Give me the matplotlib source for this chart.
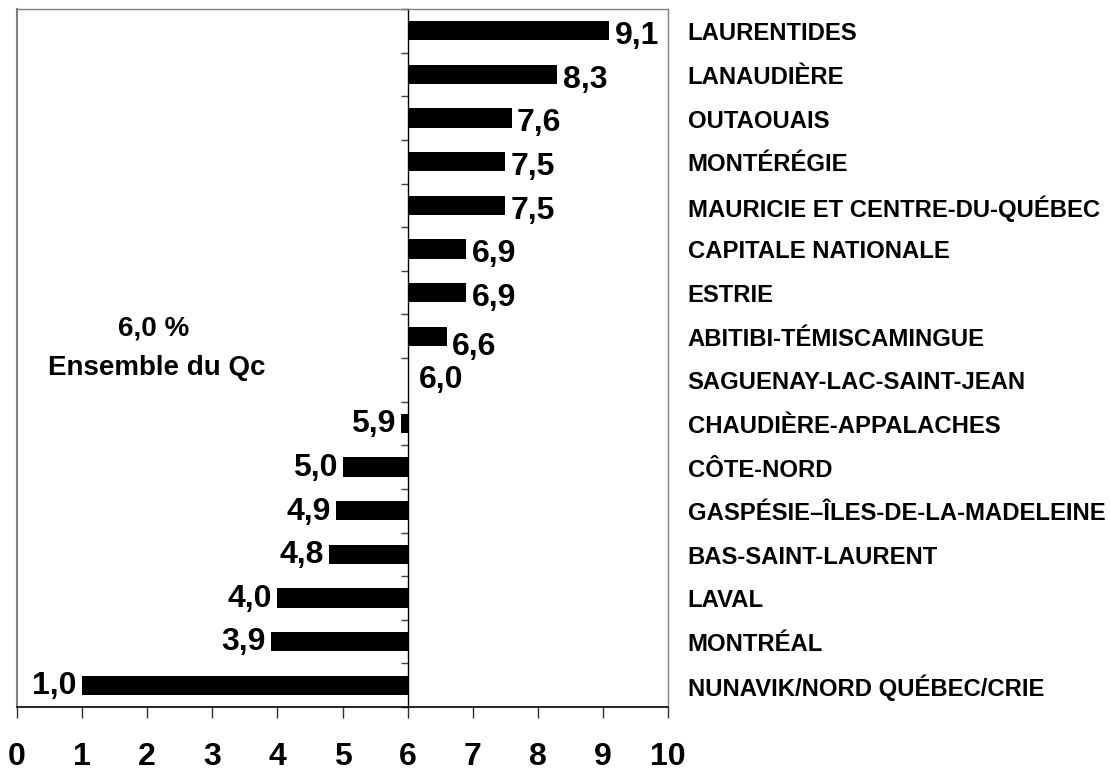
import matplotlib
matplotlib.use("Agg")
import matplotlib.pyplot as plt
import numpy as np

regions = ["LAURENTIDES", "LANAUDIÈRE", "OUTAOUAIS", "MONTÉRÉGIE",
           "MAURICIE ET CENTRE-DU-QUÉBEC", "CAPITALE NATIONALE", "ESTRIE",
           "ABITIBI-TÉMISCAMINGUE", "SAGUENAY-LAC-SAINT-JEAN",
           "CHAUDIÈRE-APPALACHES", "CÔTE-NORD", "GASPÉSIE–ÎLES-DE-LA-MADELEINE",
           "BAS-SAINT-LAURENT", "LAVAL", "MONTRÉAL", "NUNAVIK/NORD QUÉBEC/CRIE"]
values = [9.1, 8.3, 7.6, 7.5, 7.5, 6.9, 6.9, 6.6, 6.0, 5.9, 5.0, 4.9, 4.8, 4.0, 3.9, 1.0]
baseline = 6.0
xticks = list(range(0, 11))

plt.rcParams['font.family'] = ['Liberation Sans', 'DejaVu Sans']
plt.rcParams['font.weight'] = 'bold'

fig = plt.figure(figsize=(11.1, 7.75), dpi=100)
ax = fig.add_axes([17/1110, 1 - 707/775, (668-17)/1110, (707-9)/775])

y = np.arange(len(regions))
widths = [v - baseline for v in values]
ax.barh(y, widths, left=baseline, height=0.44, color='black')

ax.set_xlim(0, 10)
ax.set_ylim(len(regions) - 0.5, -0.5)

VFS = 23
for i, v in enumerate(values):
    lab = f"{v:.1f}".replace('.', ',')
    if v > baseline:
        dy = 0.24 if abs(v - 6.6) < 1e-9 else 0.12
        ax.text(v + 0.08, i + dy, lab, ha='left', va='center', fontsize=VFS, fontweight='bold')
    elif v == baseline:
        ax.text(v + 0.17, i, lab, ha='left', va='center', fontsize=VFS, fontweight='bold')
    else:
        ax.text(v - 0.08, i + 0.02, lab, ha='right', va='center', fontsize=VFS, fontweight='bold')
    ax.text(1.03, 1 - (i + 0.57) / len(regions), regions[i], transform=ax.transAxes,
            ha='left', va='center', fontsize=17.2, fontweight='bold')

ax.text(2.1, 6.82, "6,0 %", ha='center', va='center', fontsize=20, fontweight='bold')
ax.text(2.15, 7.72, "Ensemble du Qc", ha='center', va='center', fontsize=20, fontweight='bold')

# spines
ax.spines['left'].set_position(('data', baseline))
ax.spines['left'].set_color('black')
ax.spines['left'].set_linewidth(1.0)
ax.spines['bottom'].set_color('black')
ax.spines['bottom'].set_linewidth(1.2)
for s in ['top', 'right']:
    ax.spines[s].set_color('#808080')
    ax.spines[s].set_linewidth(1.0)
ax.axvline(0, color='#808080', lw=1.5, clip_on=False)

ax.set_xticks(xticks)
ax.set_xticklabels([str(t) for t in xticks], fontsize=23, fontweight='bold')
ax.tick_params(axis='x', direction='out', length=8, width=1, color='#303030', pad=17)
ax.set_yticks(np.arange(-0.5, len(regions), 1.0))
ax.set_yticklabels([])
ax.tick_params(axis='y', direction='out', length=5, width=1, color='#404040')

fig.savefig("out.png", dpi=100)
